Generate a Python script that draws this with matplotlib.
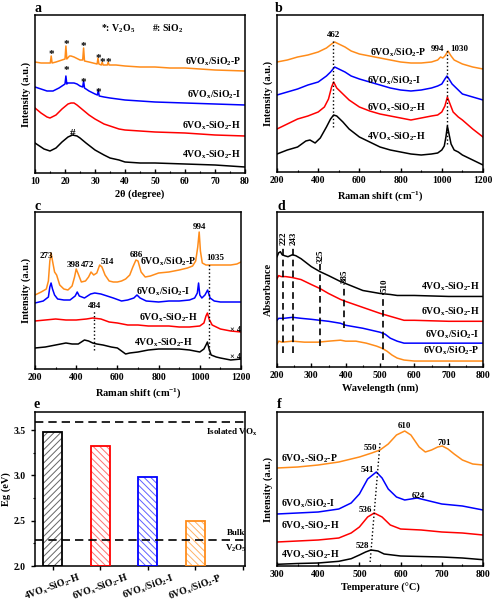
import matplotlib
matplotlib.use('Agg')
import matplotlib.pyplot as plt
from matplotlib.ticker import MultipleLocator

plt.rcParams['font.family'] = ['Liberation Serif', 'DejaVu Serif']
plt.rcParams['font.weight'] = 'bold'
plt.rcParams['mathtext.fontset'] = 'custom'
plt.rcParams['mathtext.rm'] = 'Liberation Serif:bold'
plt.rcParams['mathtext.bf'] = 'Liberation Serif:bold'
plt.rcParams['mathtext.it'] = 'Liberation Serif:bold:italic'
plt.rcParams['axes.linewidth'] = 1.1
plt.rcParams['hatch.linewidth'] = 0.7

ORANGE = '#FF8C1A'
RED = '#FF0000'
BLUE = '#0000FF'
BLACK = '#000000'

LBL_P = r'6VO$_\mathrm{x}$/SiO$_\mathrm{2}$-P'
LBL_PH = r'6VO$_\mathrm{x}$-SiO$_\mathrm{2}$-P'
LBL_I = r'6VO$_\mathrm{x}$/SiO$_\mathrm{2}$-I'
LBL_H6 = r'6VO$_\mathrm{x}$-SiO$_\mathrm{2}$-H'
LBL_H4 = r'4VO$_\mathrm{x}$-SiO$_\mathrm{2}$-H'

# ---------------- (a) XRD ----------------
xrd_p_x = [10, 12, 14, 15.1, 15.4, 15.7, 17, 19, 20.0, 20.3, 20.6, 21.5, 22, 23, 25, 25.9, 26.2, 26.5, 28,
           30.7, 31.0, 31.3, 32.1, 32.4, 32.7, 34.1, 34.4, 34.7, 37, 40, 45, 50, 55, 60, 70, 80]
xrd_p_y = [111, 110, 110, 110, 117, 110, 111, 113, 114, 127, 114, 117, 117, 116, 113, 113, 125, 112, 111,
           109, 115, 109, 108, 111, 108, 108, 111, 108, 108, 107, 106, 106, 105, 105, 103, 102]
xrd_i_x = [10, 12, 14, 16, 18, 19.5, 20.0, 20.3, 20.6, 21, 22, 23, 24, 25, 25.9, 26.2, 26.5, 28, 30,
           30.8, 31.1, 31.4, 33, 35, 40, 45, 50, 60, 70, 80]
xrd_i_y = [86, 84, 82, 82, 85, 88, 89, 97, 89, 90, 90, 90, 89, 87, 86, 92, 85, 82, 79,
           78, 83, 77, 76, 75, 73, 72, 71, 70, 69, 68]
xrd_h6_x = [10, 12, 14, 15, 17, 19, 21, 22, 23, 24, 26, 28, 30, 33, 35, 38, 40, 45, 50, 60, 70, 80]
xrd_h6_y = [65, 60, 56, 55, 58, 64, 69, 70, 70, 68, 63, 58, 54, 49, 47, 44, 43, 42, 41, 40, 38, 37]
xrd_h4_x = [10, 11, 13, 15, 17, 19, 21, 22.5, 24, 25, 27, 30, 33, 35, 38, 40, 45, 50, 60, 70, 80]
xrd_h4_y = [30, 28, 24, 22, 25, 31, 36, 38, 37, 35, 30, 23, 18, 15, 13, 11, 10, 10, 9, 8, 6]
star_p_x = [15.4, 20.3, 26.2, 31.0, 32.4, 34.5]
star_p_y = [118, 128, 126, 115, 111, 111]
star_i_x = [20.3, 26.2, 31.0]
star_i_y = [103, 91, 81]

# ---------------- (b) Raman 1 ----------------
rb_h4_x = [200, 250, 300, 340, 360, 385, 410, 440, 460, 475, 490, 520, 550, 600, 650, 700, 750, 800, 850, 900,
           950, 980, 1000, 1012, 1020, 1027, 1035, 1045, 1060, 1080, 1100, 1150, 1200]
rb_h4_y = [18, 22, 25, 31, 32, 29, 34, 45, 53, 57, 56, 50, 43, 35, 30, 25, 22, 20, 18, 17,
           18, 19, 22, 26, 35, 46, 38, 28, 22, 20, 17, 12, 7]
rb_h6_x = [200, 250, 300, 350, 400, 430, 450, 465, 475, 490, 510, 550, 600, 650, 700, 750, 800, 850, 900, 950,
           980, 1000, 1015, 1027, 1040, 1055, 1080, 1100, 1150, 1200]
rb_h6_y = [43, 48, 53, 56, 60, 65, 73, 85, 90, 84, 80, 72, 65, 61, 58, 56, 54, 52, 54, 56,
           57, 60, 66, 75, 68, 60, 55, 52, 43, 35]
rb_i_x = [200, 250, 300, 350, 400, 440, 460, 480, 500, 530, 560, 600, 650, 700, 750, 800, 850, 900, 950, 980,
          1000, 1015, 1025, 1035, 1050, 1080, 1100, 1150, 1200]
rb_i_y = [77, 80, 83, 87, 90, 96, 100, 105, 103, 100, 96, 93, 90, 87, 84, 82, 81, 82, 84, 86,
          88, 93, 96, 93, 88, 82, 78, 75, 72]
rb_p_x = [200, 250, 300, 350, 400, 440, 465, 480, 500, 530, 560, 600, 650, 700, 750, 800, 850, 900, 950, 980,
          994, 1005, 1015, 1030, 1045, 1060, 1080, 1100, 1150, 1200]
rb_p_y = [110, 112, 115, 117, 120, 124, 128, 130, 128, 125, 121, 118, 116, 114, 112, 110, 109, 109, 110, 112,
          115, 114, 116, 121, 116, 112, 110, 108, 105, 103]

# ---------------- (c) Raman 2 ----------------
rc_p_x = [200, 230, 255, 265, 272, 278, 285, 295, 305, 320, 340, 360, 380, 392, 400, 410, 425, 445, 460, 472,
          485, 500, 514, 525, 540, 560, 580, 600, 620, 640, 660, 675, 690, 700, 715, 735, 760, 800, 850, 900,
          940, 965, 980, 990, 997, 1003, 1012, 1030, 1050, 1100, 1150, 1180, 1200]
rc_p_y = [74, 77, 80, 88, 108, 116, 108, 97, 94, 84, 80, 79, 83, 92, 100, 95, 87, 88, 92, 97,
          94, 96, 104, 102, 94, 88, 87, 87, 88, 90, 94, 102, 109, 108, 97, 92, 93, 96, 97, 99,
          101, 103, 108, 122, 137, 118, 106, 104, 104, 104, 104, 105, 107]
rc_i_x = [200, 240, 265, 272, 278, 285, 295, 310, 340, 370, 395, 405, 415, 440, 470, 490, 520, 550, 580, 620,
          650, 680, 695, 710, 740, 800, 850, 900, 950, 975, 988, 994, 1000, 1010, 1025, 1038, 1050, 1070, 1100,
          1150, 1200]
rc_i_y = [66, 68, 72, 82, 86, 80, 74, 70, 69, 69, 73, 77, 73, 71, 75, 76, 75, 73, 71, 68,
          69, 71, 74, 71, 68, 67, 68, 68, 69, 71, 76, 86, 74, 71, 74, 79, 71, 68, 67,
          67, 67]
rc_h6_x = [200, 250, 300, 350, 400, 450, 480, 520, 560, 600, 650, 700, 750, 800, 850, 900, 950, 1000, 1020,
           1030, 1037, 1045, 1060, 1080, 1100, 1150, 1200]
rc_h6_y = [48, 49, 50, 49, 49, 50, 51, 50, 47, 46, 44, 44, 43, 43, 43, 42, 42, 43, 46,
           53, 56, 50, 44, 42, 40, 38, 37]
rc_h4_x = [200, 250, 300, 350, 380, 410, 440, 460, 480, 500, 530, 570, 600, 620, 640, 660, 700, 750, 800, 850,
           900, 950, 1000, 1020, 1030, 1037, 1045, 1055, 1080, 1100, 1150, 1200]
rc_h4_y = [21, 22, 24, 26, 25, 25, 29, 28, 26, 25, 24, 22, 21, 18, 15, 16, 17, 19, 20, 20,
           20, 19, 17, 20, 24, 27, 20, 14, 12, 11, 9, 10]
rc_peak_lbl = ['273', '398', '472', '514', '686', '994', '1035']
rc_peak_x = [257, 386, 454, 552, 694, 997, 1075]
rc_peak_y = [113, 104, 104, 107, 114, 142, 111]

# ---------------- (d) UV-vis ----------------
uv_h4_x = [200, 205, 210, 215, 222, 232, 245, 255, 270, 300, 325, 350, 385, 400, 450, 500, 530, 550, 600, 700, 800]
uv_h4_y = [111, 115, 116, 113, 112, 111, 113, 112, 109, 101, 96, 92, 86, 84, 77, 74, 73, 72, 72, 71, 71]
uv_h6_x = [200, 205, 212, 225, 245, 270, 300, 325, 350, 385, 400, 450, 500, 530, 550, 570, 600, 700, 800]
uv_h6_y = [89, 92, 91, 91, 90, 88, 83, 79, 74, 68, 66, 60, 54, 51, 49, 47, 47, 46, 46]
uv_i_x = [200, 205, 220, 245, 270, 300, 325, 350, 385, 400, 450, 500, 515, 530, 550, 570, 590, 650, 800]
uv_i_y = [47, 49, 49, 50, 49, 48, 47, 46, 44, 42, 39, 35, 33, 29, 26, 24, 24, 24, 24]
uv_p_x = [200, 205, 215, 245, 280, 320, 350, 385, 400, 430, 460, 490, 505, 520, 535, 550, 570, 600, 700, 800]
uv_p_y = [23, 26, 25, 26, 25, 25, 26, 27, 26, 26, 24, 21, 19, 16, 12, 9, 7, 6, 6, 6]
uv_band_lbl = ['222', '243', '325', '385', '510']
uv_band_x = [217, 246, 324, 394, 510]
uv_band_top = [122, 122, 104, 84, 74]
uv_band_bot = [14, 14, 21, 39, 7]

# ---------------- (e) band gap ----------------
eg_names = [LBL_H4, LBL_H6, LBL_I, LBL_P]
eg_values = [3.48, 3.32, 2.98, 2.50]
eg_colors = [BLACK, RED, BLUE, ORANGE]
eg_hatch_colors = ['#666666', '#FF7070', '#6060FF', '#FFB266']
eg_hatches = ['/////', '\\\\\\\\\\', '\\\\\\\\\\', '\\\\\\\\\\']
eg_isolated = 3.585
eg_bulk = 2.29

# ---------------- (f) H2-TPR ----------------
tpr_h4_x = [300, 350, 400, 450, 480, 500, 515, 528, 545, 560, 580, 600, 650, 700, 750, 800]
tpr_h4_y = [1.7, 2.5, 3, 4.7, 7.3, 11, 14, 16, 15, 12, 11, 10, 9.5, 9, 8, 6.3]
tpr_h6_x = [300, 350, 400, 450, 480, 500, 520, 536, 555, 575, 600, 650, 700, 750, 800]
tpr_h6_y = [24, 25, 26, 28, 33, 39, 49, 53, 49, 41, 37, 36, 34, 33, 31]
tpr_i_x = [300, 350, 400, 450, 480, 500, 520, 541, 555, 570, 590, 610, 640, 660, 700, 750, 800]
tpr_i_y = [52, 53, 54, 57, 63, 72, 87, 94, 88, 77, 69, 66, 68, 66, 62, 60, 56]
tpr_p_x = [300, 350, 400, 450, 500, 530, 550, 570, 590, 610, 625, 645, 660, 675, 690, 701, 715, 730, 750,
           775, 800]
tpr_p_y = [98, 99, 101, 104, 109, 113, 116, 122, 131, 135, 131, 119, 114, 116, 119, 120, 117, 112, 106,
           102, 101]
tpr_lbl = ['610', '701', '550', '541', '624', '536', '528']
tpr_lbl_x = [610, 707, 526, 520, 643, 514, 508]
tpr_lbl_y = [140, 123, 118, 96, 70, 56, 20]

FS_TICK = 7
FS_LAB = 7.5
FS_TXT = 7

W, H = 496, 610
fig = plt.figure(figsize=(W / 100, H / 100), dpi=100)


def add_ax(l, t, r, b):
    return fig.add_axes([l / W, 1 - b / H, (r - l) / W, (b - t) / H])


def style(ax, xmaj, xmin, ylab, xlab, noy=True):
    ax.xaxis.set_major_locator(MultipleLocator(xmaj))
    ax.xaxis.set_minor_locator(MultipleLocator(xmin))
    ax.tick_params(axis='both', which='both', direction='in', labelsize=FS_TICK, pad=3)
    ax.tick_params(which='major', length=3, width=1)
    ax.tick_params(which='minor', length=1.8, width=0.8)
    if noy:
        ax.set_yticks([])
    ax.set_xlabel(xlab, fontsize=FS_LAB, fontweight='bold', labelpad=2.5)
    ax.set_ylabel(ylab, fontsize=FS_LAB, fontweight='bold', labelpad=3)
    for t in ax.get_xticklabels() + ax.get_yticklabels():
        t.set_fontweight('bold')


# ---- a
ax = add_ax(35, 15, 245, 173)
for x, y, c in [(xrd_h4_x, xrd_h4_y, BLACK), (xrd_h6_x, xrd_h6_y, RED), (xrd_i_x, xrd_i_y, BLUE),
                (xrd_p_x, xrd_p_y, ORANGE)]:
    ax.plot(x, y, color=c, lw=1.1)
ax.set_xlim(10, 80)
ax.set_ylim(0, 158)
for x, y in zip(star_p_x + star_i_x, star_p_y + star_i_y):
    ax.text(x, y, '*', ha='center', va='center', fontsize=8, fontweight='bold')
ax.text(22.5, 40, '#', ha='center', va='center', fontsize=8, fontweight='bold')
ax.text(37.7, 144, r'*: V$_\mathrm{2}$O$_\mathrm{5}$', ha='center', va='center', fontsize=FS_TXT)
ax.text(54.3, 144, r'#: SiO$_\mathrm{2}$', ha='center', va='center', fontsize=FS_TXT)
for s, y in [(LBL_P, 111), (LBL_I, 78), (LBL_H6, 47), (LBL_H4, 18)]:
    ax.text(78.7, y, s, ha='right', va='center', fontsize=FS_TXT)
style(ax, 10, 5, 'Intensity (a.u.)', '2θ (degree)')

# ---- b
ax = add_ax(277, 15, 483, 172)
for x, y, c in [(rb_h4_x, rb_h4_y, BLACK), (rb_h6_x, rb_h6_y, RED), (rb_i_x, rb_i_y, BLUE),
                (rb_p_x, rb_p_y, ORANGE)]:
    ax.plot(x, y, color=c, lw=1.1)
ax.set_xlim(200, 1200)
ax.set_ylim(0, 157)
ax.plot([474, 474], [45, 132], color='k', lw=1, ls=':')
ax.plot([1027, 1027], [28, 122], color='k', lw=1, ls=':')
ax.text(474, 137, '462', ha='center', va='center', fontsize=6.5)
ax.text(979, 123, '994', ha='center', va='center', fontsize=6.5)
ax.text(1084, 123, '1030', ha='center', va='center', fontsize=6.5)
for s, x, y in [(LBL_P, 790, 119), (LBL_I, 769, 91), (LBL_H6, 777, 64), (LBL_H4, 780, 35)]:
    ax.text(x, y, s, ha='center', va='center', fontsize=FS_TXT)
style(ax, 200, 100, 'Intensity (a.u.)', r'Raman shift (cm$^{\mathrm{-1}}$)')

# ---- c
ax = add_ax(35, 212, 241, 369)
for x, y, c in [(rc_h4_x, rc_h4_y, BLACK), (rc_h6_x, rc_h6_y, RED), (rc_i_x, rc_i_y, BLUE),
                (rc_p_x, rc_p_y, ORANGE)]:
    ax.plot(x, y, color=c, lw=1.1)
ax.set_xlim(200, 1200)
ax.set_ylim(0, 157)
ax.plot([1043, 1043], [11, 106], color='k', lw=1, ls=':')
ax.plot([487, 487], [19, 59], color='k', lw=1, ls=':')
for s, x, y in zip(rc_peak_lbl, rc_peak_x, rc_peak_y):
    ax.text(x, y, s, ha='center', va='center', fontsize=6.5)
ax.text(487, 63, '484', ha='center', va='center', fontsize=6.5)
for s, x, y in [(LBL_P, 848, 107), (LBL_I, 824, 77), (LBL_H6, 848, 51), (LBL_H4, 824, 26)]:
    ax.text(x, y, s, ha='center', va='center', fontsize=FS_TXT)
ax.text(1172, 39, '× 4', ha='center', va='center', fontsize=6)
ax.text(1172, 12, '× 4', ha='center', va='center', fontsize=6)
style(ax, 200, 100, 'Intensity (a.u.)', r'Raman shift (cm$^{\mathrm{-1}}$)')

# ---- d
ax = add_ax(277, 212, 483, 367)
for x, y, c in [(uv_h4_x, uv_h4_y, BLACK), (uv_h6_x, uv_h6_y, RED), (uv_i_x, uv_i_y, BLUE),
                (uv_p_x, uv_p_y, ORANGE)]:
    ax.plot(x, y, color=c, lw=1.1)
ax.set_xlim(200, 800)
ax.set_ylim(0, 156)
for s, x, t, b in zip(uv_band_lbl, uv_band_x, uv_band_top, uv_band_bot):
    ax.plot([x, x], [b, t], color='k', lw=1.2, ls=(0, (4, 2.5)))
    ax.text(x + 3, t + 1, s, ha='center', va='bottom', rotation=90, fontsize=6.5)
for s, y in [(LBL_H4, 81), (LBL_H6, 56), (LBL_I, 32), (LBL_P, 16)]:
    ax.text(790, y, s, ha='right', va='center', fontsize=FS_TXT)
style(ax, 100, 50, 'Absorbance', 'Wavelength (nm)')

# ---- e
ax = add_ax(35, 412, 245, 566)
xpos = list(range(len(eg_values)))
for i, v in enumerate(eg_values):
    ax.bar(xpos[i], v - 2.0, bottom=2.0, width=0.4, facecolor='white', edgecolor=eg_hatch_colors[i],
           linewidth=0, hatch=eg_hatches[i], zorder=2)
    ax.bar(xpos[i], v - 2.0, bottom=2.0, width=0.4, facecolor='none', edgecolor=eg_colors[i],
           linewidth=1.3, zorder=3)
ax.set_xlim(-0.37, 4.04)
ax.set_ylim(2.0, 3.7)
ax.axhline(eg_isolated, color='k', lw=1.2, ls=(0, (5, 3)), zorder=4)
ax.axhline(eg_bulk, color='k', lw=1.2, ls=(0, (5, 3)), zorder=4)
ax.text(3.77, 3.47, r'Isolated VO$_\mathrm{x}$', ha='center', va='center', fontsize=6.5)
ax.text(3.85, 2.36, 'Bulk', ha='center', va='center', fontsize=6.5)
ax.text(3.85, 2.19, r'V$_\mathrm{2}$O$_\mathrm{5}$', ha='center', va='center', fontsize=6.5)
ax.set_xticks(xpos + [4])
ax.set_xticklabels(eg_names + [''], rotation=20, ha='center', fontsize=FS_TXT)
ax.yaxis.set_major_locator(MultipleLocator(0.5))
ax.yaxis.set_minor_locator(MultipleLocator(0.25))
ax.yaxis.set_major_formatter(matplotlib.ticker.FormatStrFormatter('%.1f'))
ax.tick_params(axis='both', which='both', direction='out', labelsize=FS_TICK)
ax.tick_params(which='major', length=3, width=1)
ax.tick_params(which='minor', length=1.8, width=0.8)
ax.tick_params(axis='x', pad=1, labelsize=FS_TXT)
ax.set_ylabel('Eg (eV)', fontsize=FS_LAB, fontweight='bold', labelpad=2)
for t in ax.get_yticklabels():
    t.set_fontweight('bold')

# ---- f
ax = add_ax(277, 412, 483, 566)
for x, y, c in [(tpr_h4_x, tpr_h4_y, BLACK), (tpr_h6_x, tpr_h6_y, RED), (tpr_i_x, tpr_i_y, BLUE),
                (tpr_p_x, tpr_p_y, ORANGE)]:
    ax.plot(x, y, color=c, lw=1.1)
ax.set_xlim(300, 800)
ax.set_ylim(0, 154)
ax.plot([526, 550], [4, 123], color='k', lw=1, ls=':')
for s, x, y in zip(tpr_lbl, tpr_lbl_x, tpr_lbl_y):
    ax.text(x, y, s, ha='center', va='center', fontsize=6.5)
for s, y in [(LBL_PH, 107), (LBL_I, 62), (LBL_H6, 40), (LBL_H4, 11)]:
    ax.text(310, y, s, ha='left', va='center', fontsize=FS_TXT)
style(ax, 100, 50, 'Intensity (a.u.)', 'Temperature (°C)')

# panel letters
for s, x, y in [('a', 38, 9), ('b', 279, 8), ('c', 38, 207), ('d', 281, 207), ('e', 37, 404), ('f', 279, 405)]:
    fig.text(x / W, 1 - y / H, s, fontsize=10, fontweight='bold', ha='center', va='center')

fig.savefig('out.png', dpi=100)
